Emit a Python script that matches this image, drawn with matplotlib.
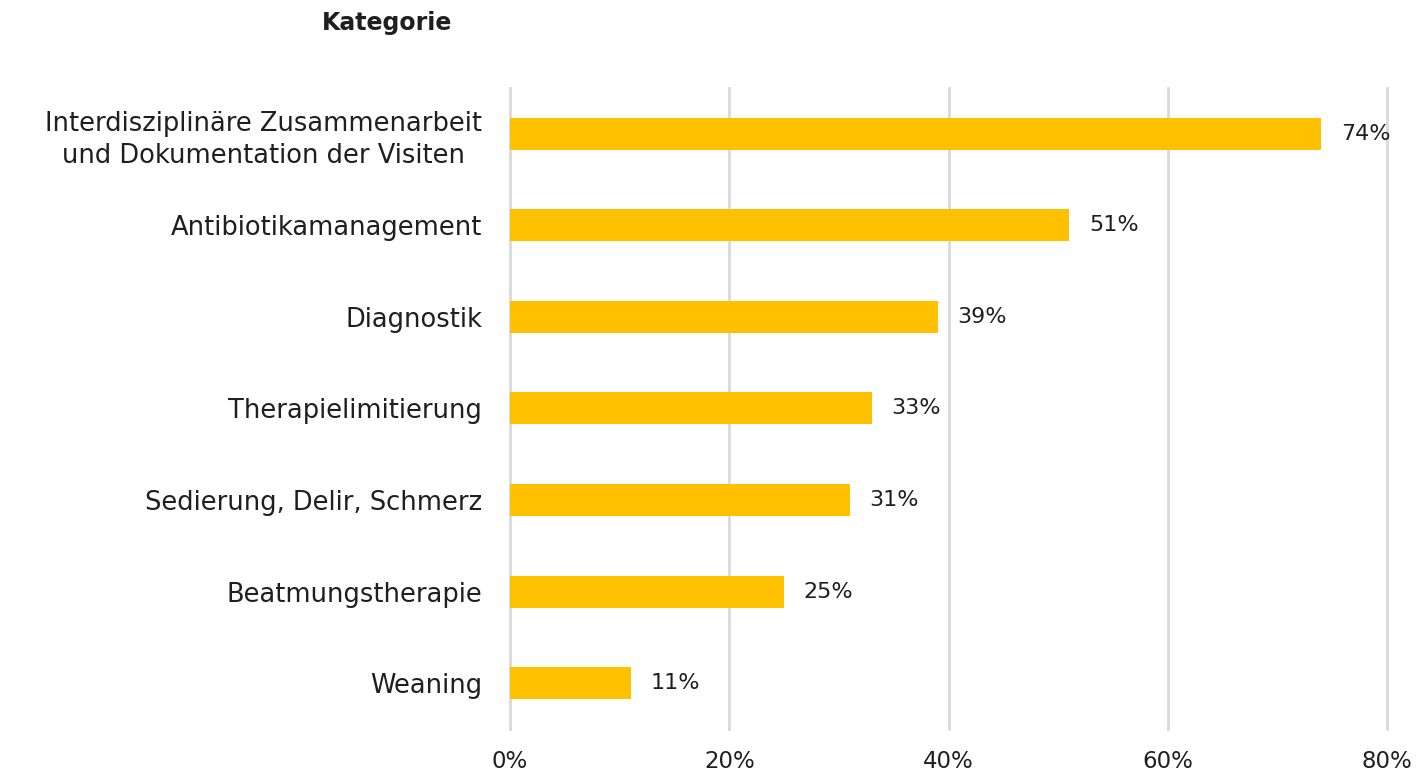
import matplotlib.pyplot as plt
from matplotlib.ticker import FuncFormatter

kategorien = ['Interdisziplinäre Zusammenarbeit\nund Dokumentation der Visiten',
              'Antibiotikamanagement',
              'Diagnostik',
              'Therapielimitierung',
              'Sedierung, Delir, Schmerz',
              'Beatmungstherapie',
              'Weaning']
werte = [74, 51, 39, 33, 31, 25, 11]
ticks = [0, 20, 40, 60, 80]

plt.rcParams['font.family'] = ['DejaVu Sans']
textfarbe = '#1f1f1f'

fig = plt.figure(figsize=(14.17, 7.78), dpi=100)
ax = fig.add_axes([0.36, 0.063, 0.6188, 0.824])

pos = list(range(len(kategorien)))
ax.barh(pos, werte, height=0.35, color='#FFC000', zorder=3)
for p, w in zip(pos, werte):
    ax.text(w + 1.8, p, f'{w}%', va='center', ha='left', fontsize=16,
            color=textfarbe)

ax.set_ylim(len(kategorien) - 0.5, -0.5)
ax.set_xlim(0, 80)
ax.set_xticks(ticks)
ax.xaxis.set_major_formatter(FuncFormatter(lambda v, _: f'{v:.0f}%'))
ax.set_yticks(pos)
ax.set_yticklabels(kategorien, fontsize=18.5, color=textfarbe,
                   multialignment='center', linespacing=1.3)
ax.tick_params(axis='y', length=0, pad=20)
ax.tick_params(axis='x', length=0, pad=15, labelsize=16.5, labelcolor=textfarbe)

ax.grid(axis='x', color='#d9d9d9', linewidth=2, zorder=0)
# Randlinien nicht halb abschneiden
for gl in ax.get_xgridlines():
    gl.set_clip_on(False)
for s in ax.spines.values():
    s.set_visible(False)

fig.text(0.273, 0.97, 'Kategorie', ha='center', va='center', fontsize=17,
         fontweight='bold', color=textfarbe)

fig.savefig('out.png', dpi=100, facecolor='white')
